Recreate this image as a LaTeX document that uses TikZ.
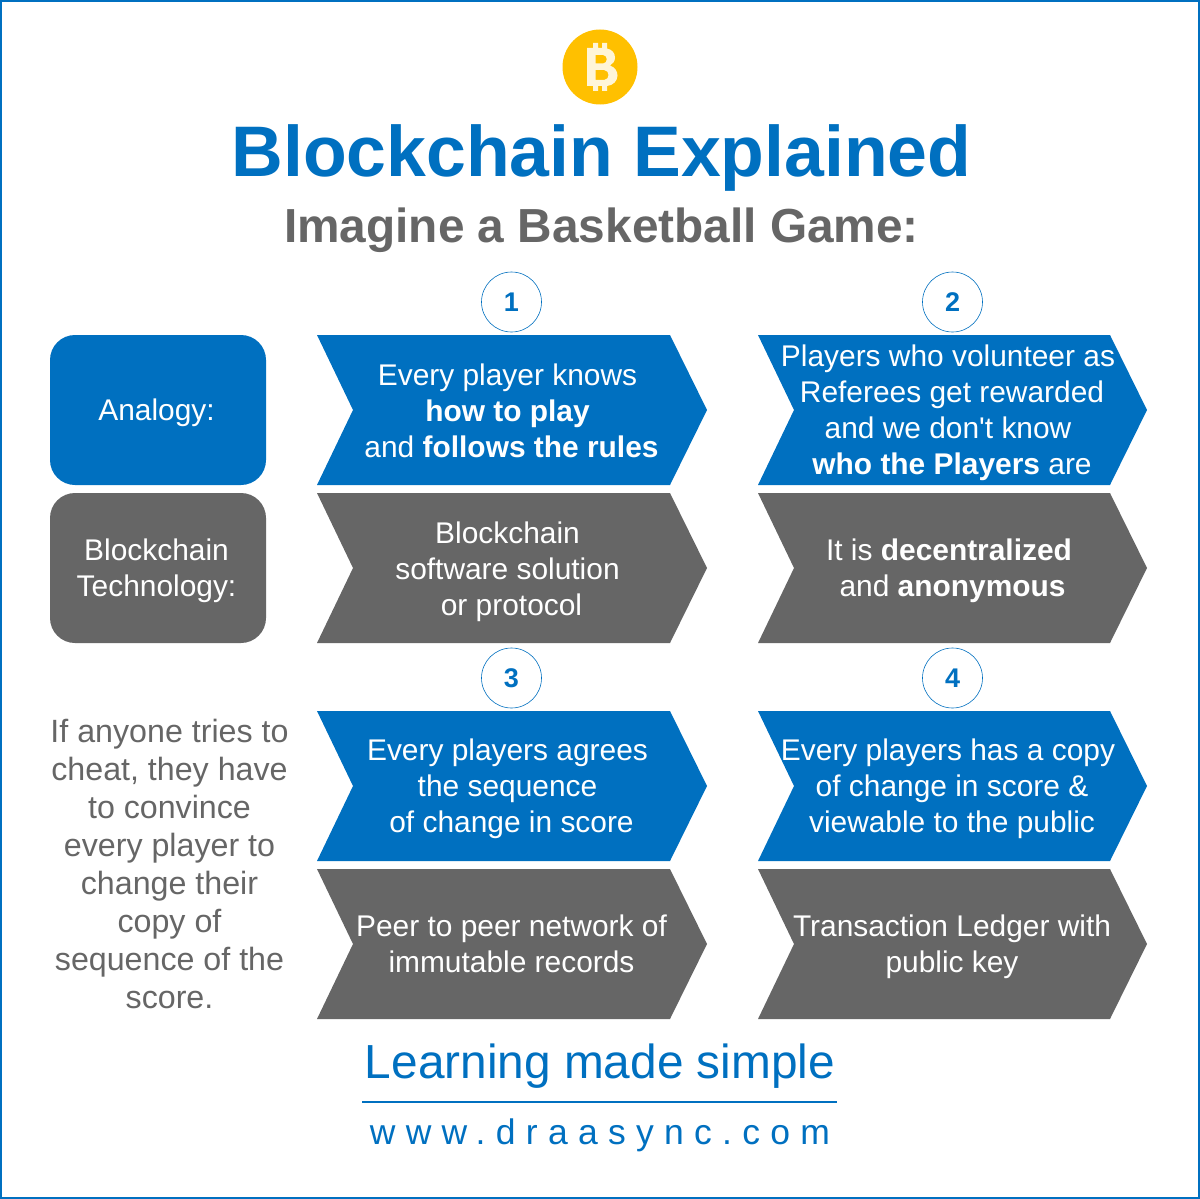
\documentclass[tikz,border=0pt]{standalone}
\usepackage{fontspec}
\setmainfont{Liberation Sans}
\newfontfamily\spacedfont[LetterSpace=29]{Liberation Sans}
\tikzset{
  bodyText/.style={text=white,align=center,inner sep=0pt,outer sep=0pt,font=\fontsize{29.9}{36}\selectfont},
  sideBox/.style={bodyText,rounded corners=25pt,minimum width=216pt,minimum height=150pt},
  numberCircle/.style={circle,draw=blueColor,line width=0.6pt,fill=white,minimum size=60pt,inner sep=0pt,text=blueColor,font=\fontsize{27}{32}\selectfont\bfseries}
}
\begin{document}
\begin{tikzpicture}[x=1pt,y=-1pt]
\definecolor{blueColor}{RGB}{0,112,192}
\definecolor{grayColor}{RGB}{102,102,102}
\definecolor{coinColor}{RGB}{255,192,0}
\definecolor{creamColor}{RGB}{255,245,215}
\path[use as bounding box,fill=white] (0,0) rectangle (1200,1199);
\path[draw=blueColor,line width=2.4pt] (1.2,1.2) rectangle (1198.8,1197.8);

% coin
\path[fill=coinColor] (600,67) circle (37.5);
\path[fill=creamColor,even odd rule] (587,48) -- (593,48) -- (593,43) -- (598,43) -- (598,48) -- (602,48) -- (602,43) -- (607,43) -- (607,48.5)
	.. controls (612,49.5) and (615,53) .. (615,57.5) .. controls (615,61) and (613,64) .. (610,65.5)
	.. controls (614.5,67) and (617.5,71) .. (617.5,75.5) .. controls (617.5,81) and (613,85.5) .. (607,86)
	-- (607,91) -- (602,91) -- (602,86) -- (598,86) -- (598,91) -- (593,91) -- (593,86) -- (587,86) -- cycle
	(595.5,55) -- (595.5,63.5) -- (603,63.5) .. controls (608,63.5) and (608,55) .. (603,55) -- cycle
	(595.5,70) -- (595.5,80) -- (604,80) .. controls (610,80) and (610,70) .. (604,70) -- cycle;

% headings
\node[text=blueColor,inner sep=0pt,font=\fontsize{71.6}{80}\selectfont\bfseries] (titleText) at (601.5,157.5) {Blockchain Explained};
\node[text=grayColor,inner sep=0pt,font=\fontsize{47.8}{52}\selectfont\bfseries] (subtitleText) at (601.5,230) {Imagine a Basketball Game:};

% number circles
\node[numberCircle] (numberOne) at (511.5,302) {1};
\node[numberCircle] (numberTwo) at (952.5,302) {2};
\node[numberCircle] (numberThree) at (511.5,678) {3};
\node[numberCircle] (numberFour) at (952.5,678) {4};

% left column
\node[sideBox,fill=blueColor] (analogyBox) at (158,410) {\raisebox{-3pt}[\height][\depth]{\hspace*{-3pt}Analogy:}};
\node[sideBox,fill=grayColor] (techBox) at (158,568) {\raisebox{-3pt}[\height][\depth]{\hspace*{-3pt}Blockchain}\\\raisebox{-3pt}[\height][\depth]{\hspace*{-3pt}Technology:}};
\node[text=grayColor,align=center,inner sep=0pt,font=\fontsize{32.2}{38}\selectfont] (cheatText) at (169.5,864) {If anyone tries to\\cheat, they have\\to convince\\every player to\\change their\\copy of\\sequence of the\\score.};

% chevrons
\path[fill=blueColor] (317,335) -- (670,335) -- (707,410) -- (670,485) -- (317,485) -- (353,410) -- cycle;
\path[fill=blueColor] (758,335) -- (1110,335) -- (1147,410) -- (1110,485) -- (758,485) -- (794,410) -- cycle;
\path[fill=grayColor] (317,493) -- (670,493) -- (707,568) -- (670,643) -- (317,643) -- (353,568) -- cycle;
\path[fill=grayColor] (758,493) -- (1110,493) -- (1147,568) -- (1110,643) -- (758,643) -- (794,568) -- cycle;
\path[fill=blueColor] (317,711) -- (670,711) -- (707,786) -- (670,861) -- (317,861) -- (353,786) -- cycle;
\path[fill=blueColor] (758,711) -- (1110,711) -- (1147,786) -- (1110,861) -- (758,861) -- (794,786) -- cycle;
\path[fill=grayColor] (317,869) -- (670,869) -- (707,944) -- (670,1019) -- (317,1019) -- (353,944) -- cycle;
\path[fill=grayColor] (758,869) -- (1110,869) -- (1147,944) -- (1110,1019) -- (758,1019) -- (794,944) -- cycle;

% chevron texts
\node[bodyText] (textOne) at (511.5,410.5) {\hspace*{-8pt}Every player knows\\\hspace*{-8pt}\textbf{how to play}\\and \textbf{follows the rules}};
\node[bodyText] (textTwo) at (948,413) {Players who volunteer as\\\hspace*{8pt}Referees get rewarded\\and we don\textquotesingle t know\\\hspace*{8pt}\textbf{who the Players} are};
\node[bodyText] (textOneB) at (507.5,571.5) {Blockchain\\software solution\\\hspace*{8pt}or protocol};
\node[bodyText] (textTwoB) at (949,571) {It is \textbf{decentralized}\\\hspace*{7pt}and \textbf{anonymous}};
\node[bodyText] (textThree) at (507.5,789) {Every players agrees\\the sequence\\\hspace*{8pt}of change in score};
\node[bodyText] (textFour) at (952,789) {\hspace*{-8pt}Every players has a copy\\of change in score \&\\viewable to the public};
\node[bodyText] (textThreeB) at (511.5,944) {Peer to peer network of\\immutable records};
\node[bodyText] (textFourB) at (952,947) {Transaction Ledger with\\public key};

% footer
\node[text=blueColor,inner sep=0pt,font=\fontsize{47.8}{52}\selectfont] (learningText) at (600,1066) {Learning made simple};
\path[draw=blueColor,line width=2pt] (362,1102) -- (837,1102);
\node[text=blueColor,inner sep=0pt,font=\spacedfont\fontsize{35.5}{40}\selectfont] (urlText) at (600,1135) {www.draasync.com};
\end{tikzpicture}
\end{document}
